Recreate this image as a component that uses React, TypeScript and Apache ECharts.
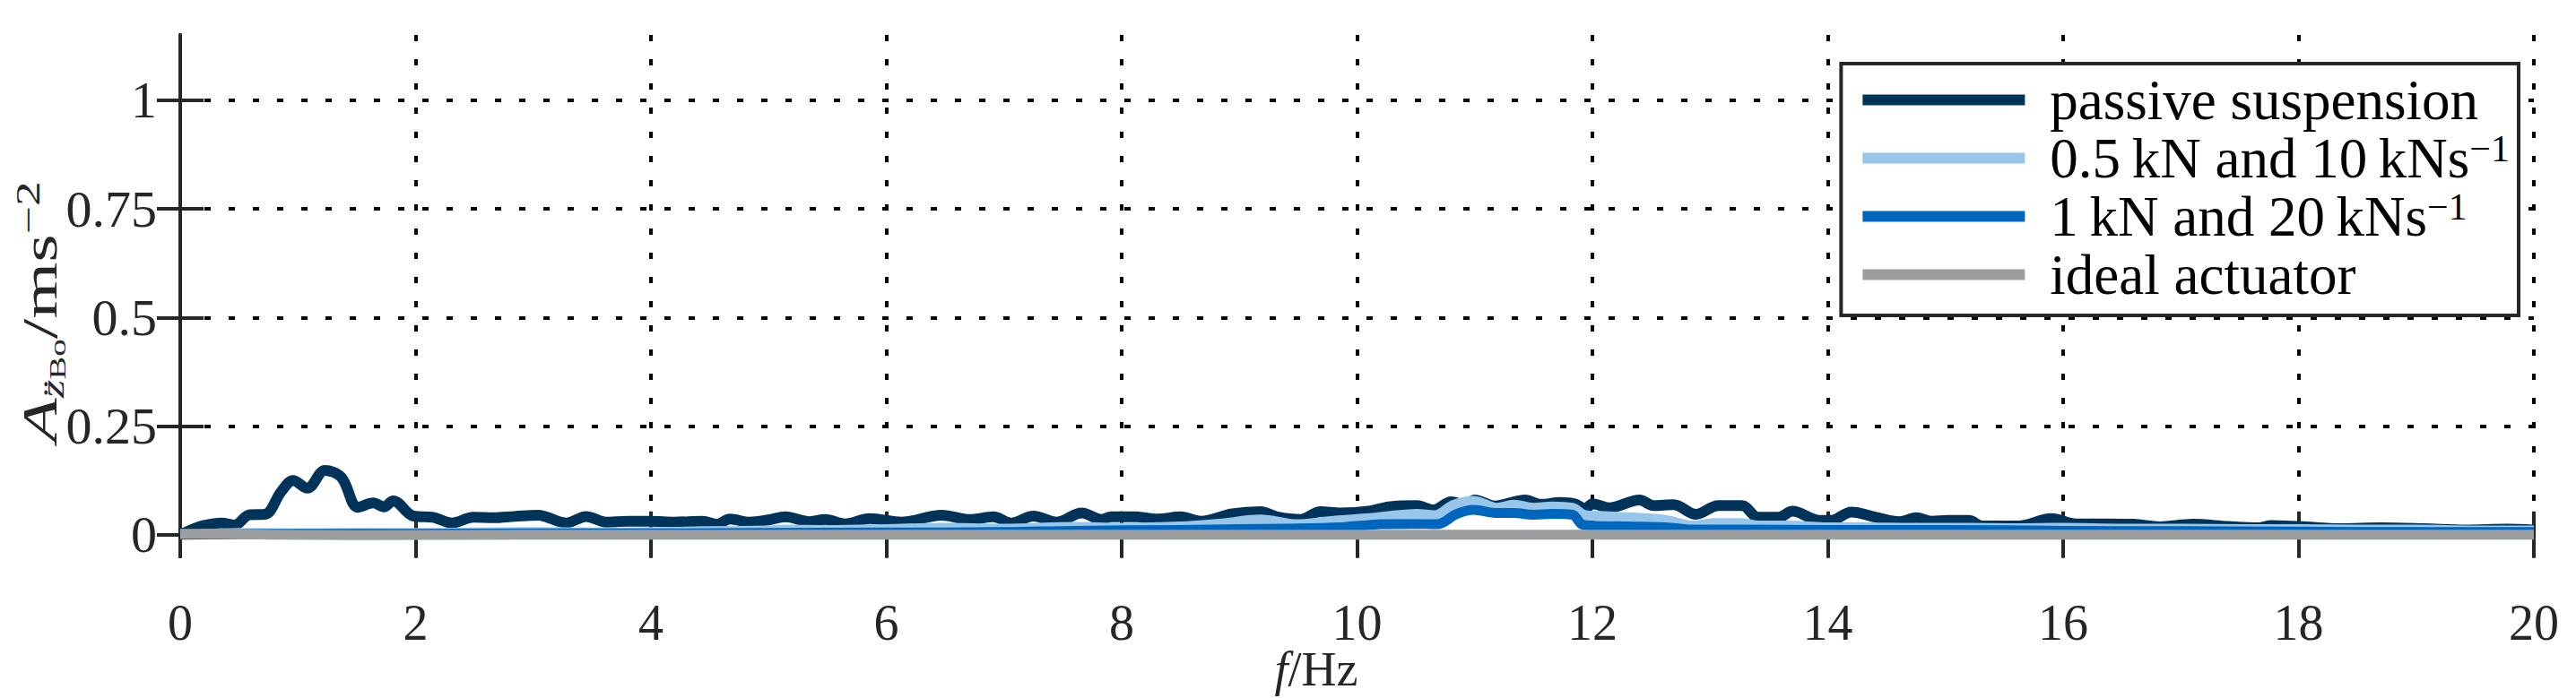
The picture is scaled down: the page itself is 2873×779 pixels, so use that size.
import React, { useEffect, useRef } from 'react';
import * as echarts from 'echarts';

const FONT = '"Liberation Serif", "Times New Roman", serif';
const AXIS_COLOR = '#262626';

const X_MIN = 0;
const X_MAX = 20;
const X_STEP = 2;
const Y_MIN = -0.05;
const Y_MAX = 1.15;
const Y_TICKS = [0, 0.25, 0.5, 0.75, 1];

const SERIES_NAMES = [
  'passive suspension',
  '0.5 kN and 10 kNs-1',
  '1 kN and 20 kNs-1',
  'ideal actuator',
];
const LEGEND_TEXT: Record<string, string> = {
  'passive suspension': 'passive suspension',
  '0.5 kN and 10 kNs-1': '0.5\u2009kN and 10\u2009kNs{s|\u22121}',
  '1 kN and 20 kNs-1': '1\u2009kN and 20\u2009kNs{s|\u22121}',
  'ideal actuator': 'ideal actuator',
};
const SERIES_COLORS = ['#003359', '#98C6EA', '#0065BD', '#9C9D9F'];

// [f in Hz, amplitude in m/s^2]
const PASSIVE: [number, number][] = [
  [0, 0.0], [0.1, 0.012], [0.18, 0.02], [0.35, 0.027], [0.46, 0.022], [0.59, 0.046], [0.72, 0.047],
  [0.86, 0.1], [0.96, 0.125], [1.08, 0.107], [1.23, 0.148], [1.37, 0.132], [1.51, 0.063], [1.64, 0.073],
  [1.73, 0.064], [1.81, 0.078], [1.98, 0.043], [2.15, 0.04], [2.31, 0.027], [2.49, 0.04], [2.66, 0.039],
  [2.84, 0.042], [3.04, 0.045], [3.28, 0.027], [3.45, 0.042], [3.62, 0.029], [3.8, 0.031], [4.0, 0.031],
  [4.2, 0.029], [4.44, 0.031], [4.56, 0.024], [4.67, 0.036], [4.84, 0.029], [5.0, 0.034], [5.14, 0.041],
  [5.35, 0.03], [5.48, 0.035], [5.65, 0.025], [5.86, 0.037], [6.13, 0.029], [6.47, 0.045], [6.71, 0.035],
  [6.91, 0.041], [7.06, 0.027], [7.25, 0.043], [7.45, 0.029], [7.66, 0.05], [7.83, 0.035], [7.91, 0.041],
  [8.13, 0.041], [8.3, 0.036], [8.5, 0.041], [8.67, 0.031], [8.94, 0.048], [9.18, 0.053], [9.32, 0.041],
  [9.52, 0.035], [9.69, 0.053], [9.86, 0.05], [10.1, 0.054], [10.27, 0.064], [10.51, 0.067], [10.65, 0.057],
  [10.8, 0.076], [10.92, 0.069], [11.0, 0.08], [11.17, 0.066], [11.43, 0.08], [11.56, 0.07], [11.73, 0.074],
  [11.85, 0.071], [11.94, 0.06], [12.0, 0.071], [12.14, 0.062], [12.4, 0.08], [12.52, 0.067], [12.69, 0.069],
  [12.88, 0.047], [13.07, 0.067], [13.27, 0.067], [13.41, 0.04], [13.58, 0.04], [13.7, 0.054], [13.93, 0.033],
  [14.03, 0.033], [14.2, 0.052], [14.41, 0.04], [14.61, 0.03], [14.75, 0.039], [14.88, 0.031], [15.02, 0.033],
  [15.2, 0.033], [15.31, 0.02], [15.62, 0.02], [15.9, 0.037], [16.11, 0.025], [16.35, 0.025], [16.6, 0.024],
  [16.82, 0.018], [17.1, 0.024], [17.4, 0.019], [17.66, 0.016], [17.77, 0.021], [18.01, 0.019], [18.36, 0.014],
  [18.7, 0.016], [19.07, 0.014], [19.42, 0.011], [19.77, 0.013], [20.0, 0.011],
];

const ACT_05: [number, number][] = [
  [0, 0.0], [0.5, 0.004], [1.0, 0.003], [1.5, 0.004], [2.0, 0.004], [2.5, 0.005], [3.0, 0.006], [3.5, 0.005],
  [4.0, 0.006], [4.5, 0.008], [5.0, 0.01], [5.14, 0.012], [5.5, 0.011], [6.0, 0.013], [6.47, 0.016],
  [7.0, 0.014], [7.6, 0.018], [8.0, 0.016], [8.5, 0.019], [8.85, 0.026], [9.18, 0.035], [9.49, 0.024],
  [9.76, 0.031], [9.9, 0.034], [10.1, 0.038], [10.27, 0.043], [10.51, 0.048], [10.66, 0.045], [10.82, 0.069],
  [10.99, 0.078], [11.19, 0.062], [11.33, 0.069], [11.5, 0.062], [11.66, 0.065], [11.83, 0.062], [11.94, 0.045],
  [12.11, 0.043], [12.38, 0.039], [12.62, 0.034], [12.86, 0.021], [13.03, 0.027], [13.27, 0.027], [13.41, 0.021],
  [13.65, 0.021], [14.0, 0.017], [14.3, 0.017], [14.7, 0.016], [15.2, 0.016], [15.6, 0.015], [16.0, 0.016],
  [16.5, 0.014], [17.0, 0.014], [17.5, 0.013], [18.0, 0.013], [18.5, 0.012], [19.0, 0.012], [19.5, 0.01],
  [20.0, 0.01],
];

const ACT_1: [number, number][] = [
  [0, 0.0], [1.0, 0.002], [2.0, 0.002], [3.0, 0.003], [4.0, 0.003], [5.0, 0.004], [6.0, 0.005], [7.0, 0.006],
  [7.6, 0.009], [8.5, 0.011], [9.0, 0.013], [9.4, 0.014], [9.86, 0.017], [10.2, 0.024], [10.51, 0.025],
  [10.68, 0.024], [10.85, 0.048], [10.99, 0.057], [11.19, 0.05], [11.33, 0.05], [11.5, 0.046], [11.66, 0.048],
  [11.83, 0.046], [11.91, 0.024], [12.0, 0.021], [12.3, 0.019], [12.62, 0.017], [12.86, 0.012], [13.3, 0.012],
  [14.0, 0.011], [15.0, 0.011], [16.0, 0.009], [17.0, 0.008], [18.0, 0.007], [19.0, 0.006], [20.0, 0.006],
];

const IDEAL: [number, number][] = [
  [0, 0.002], [0.4, 0.002], [0.8, 0.0], [1.5, -0.001], [3.0, 0.0], [6.0, 0.0], [10.0, 0.0], [14.0, 0.0],
  [20.0, 0.0],
];

const SERIES_DATA = [PASSIVE, ACT_05, ACT_1, IDEAL];
const SERIES_WIDTHS = [12, 11, 11, 11];

export default function App() {
  const ref = useRef<HTMLDivElement>(null);

  useEffect(() => {
    const el = ref.current;
    if (!el) return;
    const chart = echarts.init(el, null, { renderer: 'svg' });

    const tickStyle = { show: true, inside: true, length: 26, lineStyle: { color: AXIS_COLOR, width: 4 } };
    const axisLine = { show: true, lineStyle: { color: AXIS_COLOR, width: 4 } };
    const gridLine = { show: true, lineStyle: { color: '#000', width: 4, type: [7, 20] as any } };

    const option: any = {
      animation: false,
      backgroundColor: '#fff',
      grid: { left: 201, right: 47, top: 39, bottom: 158, containLabel: false },
      xAxis: [
        {
          type: 'value', min: X_MIN, max: X_MAX, interval: X_STEP, position: 'bottom',
          axisLine, axisTick: tickStyle, splitLine: gridLine,
          axisLabel: { show: true, margin: 53, fontFamily: FONT, fontSize: 56, lineHeight: 42, color: AXIS_COLOR },
        },
        {
          type: 'value', min: X_MIN, max: X_MAX, interval: X_STEP, position: 'top',
          axisLine, axisTick: tickStyle, splitLine: { show: false }, axisLabel: { show: false },
        },
      ],
      yAxis: [
        {
          type: 'value', min: Y_MIN, max: Y_MAX, position: 'left',
          axisLine, axisTick: { ...tickStyle, customValues: Y_TICKS }, splitLine: gridLine,
          axisLabel: {
            show: true, margin: 26, fontFamily: FONT, fontSize: 58, lineHeight: 44, color: AXIS_COLOR,
            customValues: Y_TICKS, formatter: (v: number) => String(v),
          },
        },
        {
          type: 'value', min: Y_MIN, max: Y_MAX, position: 'right',
          axisLine, axisTick: { ...tickStyle, customValues: Y_TICKS }, splitLine: { show: false },
          axisLabel: { show: false, customValues: Y_TICKS },
        },
      ],
      legend: {
        orient: 'vertical', right: 64, top: 71,
        data: SERIES_NAMES,
        icon: 'rect', itemWidth: 181, itemHeight: 12, itemGap: 2,
        padding: [9, 10, 14, 24],
        backgroundColor: '#fff', borderColor: AXIS_COLOR, borderWidth: 4, borderRadius: 0,
        formatter: (name: string) => LEGEND_TEXT[name],
        textStyle: {
          fontFamily: FONT, fontSize: 63, color: '#000', padding: [0, 0, 0, 23],
          rich: {
            s: { fontFamily: FONT, fontSize: 42, color: '#000', verticalAlign: 'top', lineHeight: 40 },
          },
        },
      },
      graphic: [
        {
          type: 'text', x: 45, y: 348, rotation: Math.PI / 2, scaleX: 1.5, scaleY: 1, z: 100,
          style: {
            text: '{a|A}{b|z\u0308}{c|Bo}{d|/ms}{e|\u22122}',
            align: 'center', verticalAlign: 'middle',
            rich: {
              a: { fontFamily: FONT, fontSize: 54, fontStyle: 'italic', fill: AXIS_COLOR, lineHeight: 64 },
              b: { fontFamily: FONT, fontSize: 35, fontStyle: 'italic', fill: AXIS_COLOR, verticalAlign: 'bottom', lineHeight: 37 },
              c: { fontFamily: FONT, fontSize: 26, fill: AXIS_COLOR, verticalAlign: 'bottom', lineHeight: 26 },
              d: { fontFamily: FONT, fontSize: 54, fill: AXIS_COLOR, lineHeight: 64 },
              e: { fontFamily: FONT, fontSize: 37, fill: AXIS_COLOR, verticalAlign: 'top', lineHeight: 37 },
            },
          },
        },
        {
          type: 'text', x: 1468, y: 747, z: 100,
          style: {
            text: '{i|f}{n|/Hz}',
            align: 'center', verticalAlign: 'middle',
            rich: {
              i: { fontFamily: FONT, fontSize: 54, fontStyle: 'italic', fill: AXIS_COLOR, lineHeight: 42 },
              n: { fontFamily: FONT, fontSize: 54, fill: AXIS_COLOR, lineHeight: 42 },
            },
          },
        },
      ],
      series: SERIES_NAMES.map((name, i) => ({
        name,
        type: 'line',
        xAxisIndex: 0,
        yAxisIndex: 0,
        data: SERIES_DATA[i],
        showSymbol: false,
        symbol: 'none',
        smooth: 0.35,
        color: SERIES_COLORS[i],
        lineStyle: { color: SERIES_COLORS[i], width: SERIES_WIDTHS[i], join: 'round', cap: 'butt' },
        clip: true,
      })),
    };

    chart.setOption(option);
    return () => chart.dispose();
  }, []);

  return (
    <div
      ref={ref}
      style={{ position: 'absolute', left: 0, top: 0, width: 2873, height: 779, background: '#fff' }}
    />
  );
}
